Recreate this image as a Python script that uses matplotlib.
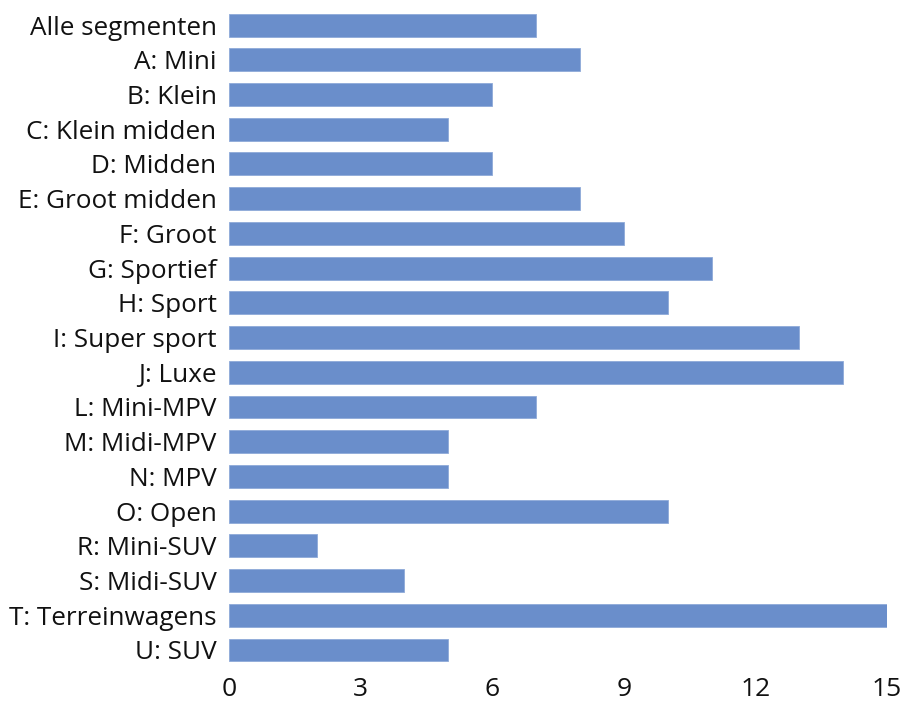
import matplotlib
matplotlib.use("Agg")
import matplotlib.pyplot as plt

categories = [
    "Alle segmenten", "A: Mini", "B: Klein", "C: Klein midden", "D: Midden",
    "E: Groot midden", "F: Groot", "G: Sportief", "H: Sport", "I: Super sport",
    "J: Luxe", "L: Mini-MPV", "M: Midi-MPV", "N: MPV", "O: Open",
    "R: Mini-SUV", "S: Midi-SUV", "T: Terreinwagens", "U: SUV",
]
values = [7, 8, 6, 5, 6, 8, 9, 11, 10, 13, 14, 7, 5, 5, 10, 2, 4, 15, 5]
xticks = [0, 3, 6, 9, 12, 15]

plt.rcParams["font.family"] = ["Open Sans", "DejaVu Sans"]

fig = plt.figure(figsize=(9.15, 7.01), dpi=100)
ax = fig.add_axes([0.2503, 0.048, 0.7191, 0.941])

pos = list(range(len(categories)))
ax.barh(pos, values, height=0.66, color="#6a8ecb", edgecolor="#8eaad9", linewidth=0.6)
ax.set_ylim(len(categories) - 0.5, -0.5)
ax.set_xlim(0, 15)
ax.set_yticks(pos)
ax.set_yticklabels(categories, fontsize=18.8, color="#111111")
ax.set_xticks(xticks)
ax.set_xticklabels([str(t) for t in xticks], fontsize=19, color="#111111")
ax.tick_params(axis="both", length=0)
ax.tick_params(axis="y", pad=9)
ax.tick_params(axis="x", pad=7)
for s in ax.spines.values():
    s.set_visible(False)

fig.savefig("out.png", dpi=100)
